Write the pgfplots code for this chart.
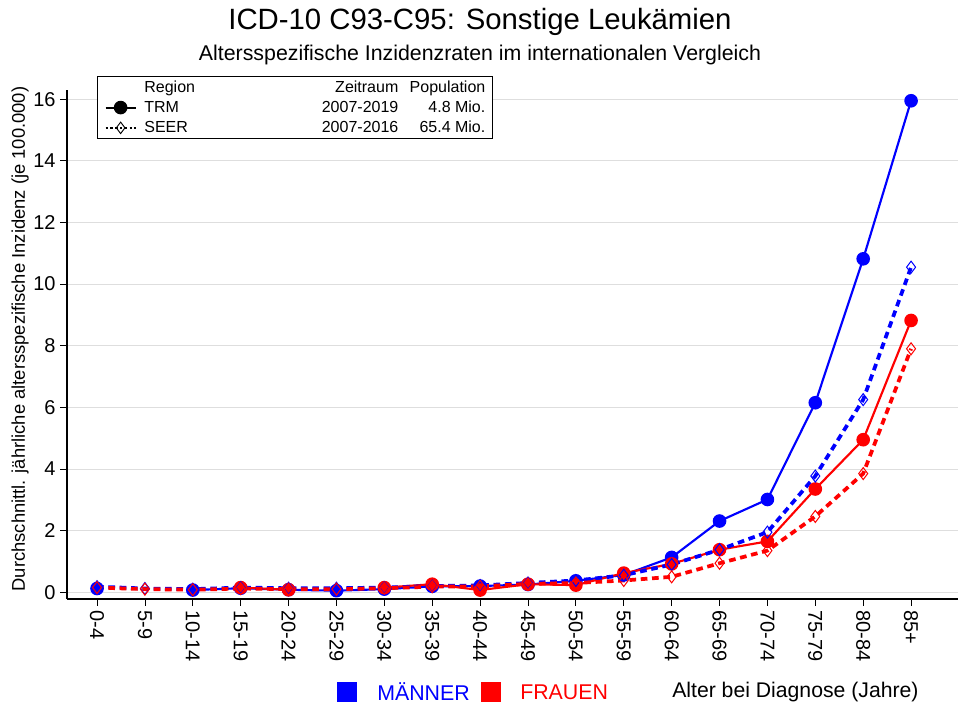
\documentclass[border=0pt]{standalone}
\usepackage{fontspec}
\setmainfont{Liberation Sans}
\usepackage{pgfplots}
\pgfplotsset{compat=1.18}
\definecolor{myblue}{RGB}{0,0,255}
\definecolor{myred}{RGB}{255,0,0}
\begin{document}
\begin{tikzpicture}
\useasboundingbox (0,0) rectangle (720pt,531.75pt);
\begin{axis}[
  at={(50.25pt,82.5pt)}, anchor=south west,
  scale only axis, width=668.25pt, height=381.75pt,
  xmin=-0.627, xmax=17.98, ymin=-0.22, ymax=16.3,
  axis lines=left, axis line style={-, line width=0.8pt},
  xtick={0,...,17},
  xticklabels={0-4,5-9,10-14,15-19,20-24,25-29,30-34,35-39,40-44,45-49,50-54,55-59,60-64,65-69,70-74,75-79,80-84,85+},
  ytick={0,2,...,16},
  tick align=outside, major tick length=5pt,
  tick style={black, line width=0.6pt},
  x tick label style={rotate=-90, anchor=west, font=\fontsize{15}{18}\selectfont},
  y tick label style={font=\fontsize{15}{18}\selectfont},
  /pgf/number format/assume math mode=true,
  ymajorgrids, grid style={black!13, line width=0.7pt},
  unbounded coords=jump,
  clip=false,
  legend cell align=left,
  legend image code/.code={\path (0pt,0pt); \draw[mark repeat=2,mark phase=2,#1] plot coordinates {(2.25pt,0pt) (13.5pt,0pt) (24.75pt,0pt)};},
  legend style={at={(0.0337,1.0275)}, anchor=north west, draw=black, line width=0.8pt,
    font=\fontsize{12}{14}\selectfont, inner xsep=3pt, inner ysep=1pt, row sep=1pt},
]
% blue TRM
\addplot[forget plot, myblue, line width=1.6pt, mark=*, mark size=4.3pt, mark options={solid}] coordinates {
(0,0.12) (1,nan) (2,0.07) (3,0.13) (4,0.08) (5,0.05) (6,0.10) (7,0.19) (8,0.20) (9,0.25) (10,0.37) (11,0.56) (12,1.13) (13,2.31) (14,3.01) (15,6.15) (16,10.82) (17,15.95)};
% red TRM
\addplot[forget plot, myred, line width=1.6pt, mark=*, mark size=4.3pt, mark options={solid}] coordinates {
(0,nan) (1,nan) (2,nan) (3,0.15) (4,0.08) (5,nan) (6,0.15) (7,0.26) (8,0.07) (9,0.26) (10,0.23) (11,0.62) (12,0.92) (13,1.38) (14,1.65) (15,3.35) (16,4.95) (17,8.82)};
% blue SEER
\addplot[forget plot, myblue, line width=2.8pt, dash pattern=on 5pt off 3.5pt, mark=diamond, mark size=4.5pt, mark options={solid, line width=0.75pt}] coordinates {
(0,0.18) (1,0.12) (2,0.10) (3,0.15) (4,0.13) (5,0.13) (6,0.15) (7,0.20) (8,0.22) (9,0.30) (10,0.38) (11,0.55) (12,0.90) (13,1.38) (14,1.95) (15,3.77) (16,6.25) (17,10.55)};
% red SEER
\addplot[forget plot, myred, line width=2.8pt, dash pattern=on 5pt off 3.5pt, mark=diamond, mark size=4.5pt, mark options={solid, line width=0.75pt}] coordinates {
(0,0.15) (1,0.10) (2,0.08) (3,0.12) (4,0.10) (5,0.10) (6,0.13) (7,0.18) (8,0.19) (9,0.27) (10,0.30) (11,0.38) (12,0.50) (13,0.94) (14,1.35) (15,2.46) (16,3.85) (17,7.90)};
\addlegendimage{empty legend}
\addlegendentry{\hspace{3.75pt}\makebox[190.5pt]{Region\hfill Zeitraum}\makebox[65.25pt][r]{Population}}
\addlegendimage{black, line width=1.6pt, mark=*, mark size=4.3pt}
\addlegendentry{\hspace{3.75pt}\makebox[190.5pt]{TRM\hfill 2007-2019}\makebox[65.25pt][r]{4.8 Mio.}}
\addlegendimage{black, line width=1.6pt, dash pattern=on 1.8pt off 1.8pt, mark=diamond, mark size=4.3pt, mark options={solid, line width=0.7pt}}
\addlegendentry{\hspace{3.75pt}\makebox[190.5pt]{SEER\hfill 2007-2016}\makebox[65.25pt][r]{65.4 Mio.}}
\end{axis}
\node[font=\fontsize{22}{26}\selectfont] at (360pt,515.25pt) {ICD-10 C93-C95: Sonstige Leukämien};
\node[font=\fontsize{16}{19}\selectfont] at (360pt,490.5pt) {Altersspezifische Inzidenzraten im internationalen Vergleich};
\node[rotate=90, font=\fontsize{13.8}{16}\selectfont] at (15pt,277.5pt) {Durchschnittl. jährliche altersspezifische Inzidenz (je 100.000)};
\node[fill=myblue, minimum size=15pt, inner sep=0pt] at (260.25pt,12.75pt) {};
\node[anchor=west, inner sep=0pt, text=myblue, font=\fontsize{16}{19}\selectfont] at (282.75pt,12.75pt) {MÄNNER};
\node[fill=myred, minimum size=15pt, inner sep=0pt] at (368.25pt,12.75pt) {};
\node[anchor=west, inner sep=0pt, text=myred, font=\fontsize{16}{19}\selectfont] at (390pt,12.75pt) {FRAUEN};
\node[anchor=west, inner sep=0pt, font=\fontsize{15.9}{19}\selectfont] at (504pt,12.75pt) {Alter bei Diagnose (Jahre)};
\end{tikzpicture}
\end{document}
